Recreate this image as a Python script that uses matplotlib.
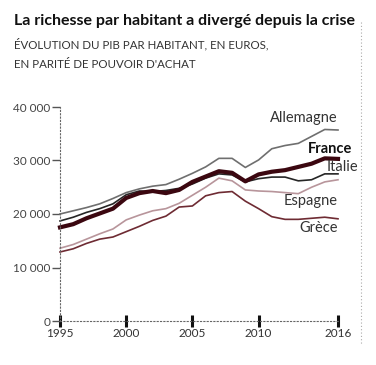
import matplotlib
matplotlib.use("Agg")
import matplotlib.pyplot as plt

years = list(range(1995, 2017))

allemagne = [20000, 20600, 21200, 21900, 22900, 24000, 24700, 25200, 25500, 26500, 27600,
             28800, 30400, 30400, 28700, 30100, 32200, 32800, 33200, 34500, 35800, 35700]
france = [17500, 18100, 19200, 20100, 21000, 23000, 23900, 24300, 23900, 24500, 26000,
          27000, 28000, 27700, 26100, 27400, 27900, 28200, 28800, 29400, 30400, 30300]
italie = [18700, 19400, 20300, 21000, 21900, 23600, 24300, 24200, 24400, 24800, 25600,
          26700, 27500, 27300, 26000, 26600, 26900, 26900, 26200, 26400, 27500, 27500]
espagne = [13600, 14300, 15300, 16300, 17200, 18900, 19800, 20600, 21000, 22000, 23500,
           25000, 26700, 26200, 24500, 24300, 24200, 24000, 23800, 25000, 26000, 26400]
grece = [12900, 13500, 14500, 15300, 15700, 16700, 17700, 18800, 19600, 21300, 21500,
         23400, 24000, 24200, 22400, 21000, 19500, 19000, 19000, 19200, 19400, 19100]

y_ticks = [0, 10000, 20000, 30000, 40000]
y_labels = ["0", "10 000", "20 000", "30 000", "40 000"]
x_ticks = [1995, 2000, 2005, 2010, 2016]

title = "La richesse par habitant a divergé depuis la crise"
subtitle = ["ÉVOLUTION DU PIB PAR HABITANT, EN EUROS,", "EN PARITÉ DE POUVOIR D'ACHAT"]

plt.rcParams['font.family'] = ['Lato', 'DejaVu Sans']

fig = plt.figure(figsize=(3.76, 3.65), dpi=100)
ax = fig.add_axes([60 / 376, 44 / 365, 278 / 376, 214 / 365])

# series: (values, colour, width, label, label x, label y, bold)
series = [
    (grece, "#6e2b33", 1.2, "Grèce", 2016, 17400, False),
    (espagne, "#b8959b", 1.2, "Espagne", 2016, 22500, False),
    (allemagne, "#6f6f6f", 1.2, "Allemagne", 2016, 37900, False),
    (italie, "#262626", 1.2, "Italie", 2017.5, 28800, False),
    (france, "#3b0710", 3.0, "France", 2017.05, 32150, True),
]
for vals, col, lw, name, lx, ly, bold in series:
    ax.plot(years, vals, color=col, lw=lw, clip_on=False, solid_joinstyle="round")
    ax.text(lx, ly, name, ha="right", va="center", fontsize=10.5,
            color="#111111" if bold else "#333333",
            fontweight="bold" if bold else "normal")

ax.set_xlim(1995, 2016)
ax.set_ylim(0, 40000)
for s in ["top", "right"]:
    ax.spines[s].set_visible(False)
for s in ["left", "bottom"]:
    ax.spines[s].set_linestyle((0, (1, 2)))
    ax.spines[s].set_color("#666666")
    ax.spines[s].set_linewidth(0.8)

ax.set_yticks(y_ticks)
ax.set_yticklabels(y_labels)
ax.set_xticks(x_ticks)
ax.tick_params(axis="y", length=6, width=1, color="#555555", labelsize=8.5,
               labelcolor="#444444", pad=1)
ax.tick_params(axis="x", direction="inout", length=8, width=2.2, color="#111111",
               labelsize=8.5, labelcolor="#333333", pad=1)

fig.text(14 / 376, 1 - 21 / 365, title, fontsize=11.5, fontweight="bold",
         color="#111111", va="center", ha="left")
for i, line in enumerate(subtitle):
    fig.text(14 / 376, 1 - (44 + 20.5 * i) / 365, line, fontsize=8.3,
             color="#333333", va="center", ha="left")

fig.add_artist(plt.Line2D([361 / 376, 361 / 376], [1 - 22 / 365, 1 - 345 / 365],
                          transform=fig.transFigure, color="#aaaaaa", lw=0.8,
                          linestyle=(0, (1, 2))))

fig.savefig("out.png", dpi=100)
